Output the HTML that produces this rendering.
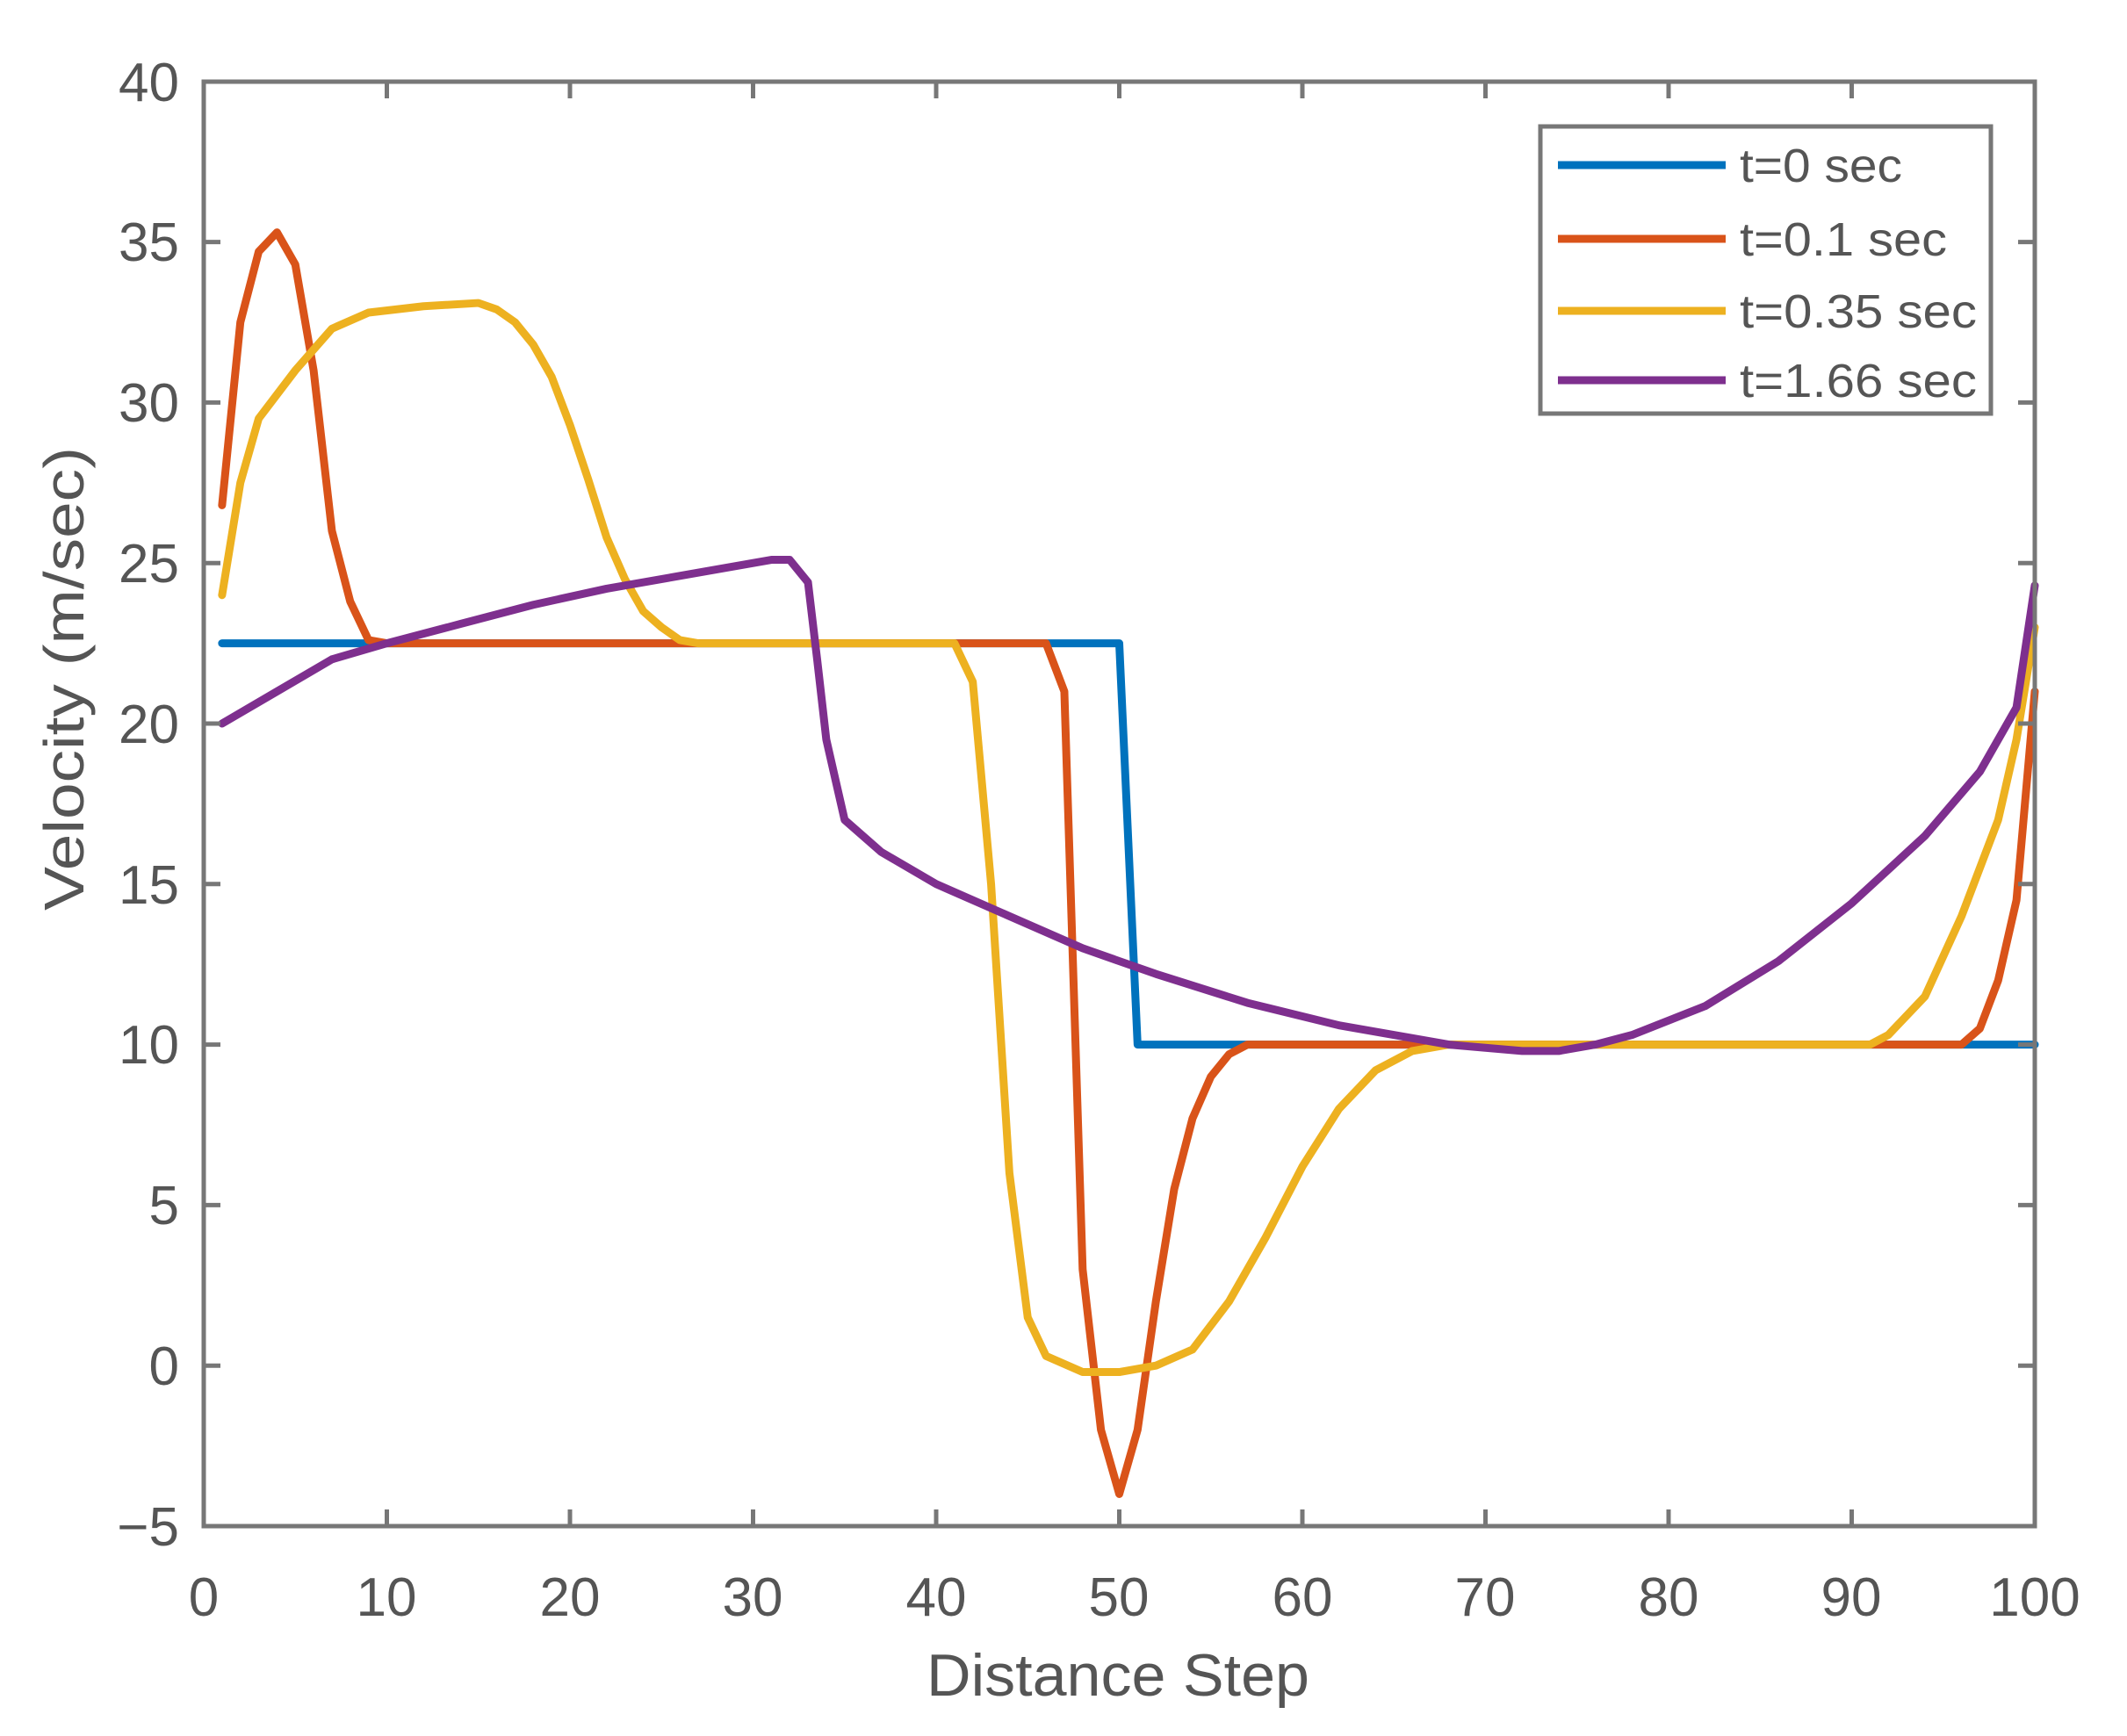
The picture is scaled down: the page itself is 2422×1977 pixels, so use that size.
<!DOCTYPE html>
<html><head><meta charset="utf-8"><style>
html,body{margin:0;padding:0;background:#fff;}
svg{display:block;}
text{font-family:"Liberation Sans",sans-serif;fill:#555;}
</style></head><body>
<svg width="2422" height="1977" viewBox="0 0 2422 1977" xmlns="http://www.w3.org/2000/svg">
<rect x="0" y="0" width="2422" height="1977" fill="#fff"/>
<g transform="translate(232,1555.2) scale(20.85,-36.56)" fill="none" stroke-linejoin="round" stroke-linecap="round">
<polyline vector-effect="non-scaling-stroke" stroke="#0072BD" stroke-width="9" points="1,22.5 50,22.5 51,10 100,10"/>
<polyline vector-effect="non-scaling-stroke" stroke="#D95319" stroke-width="9" points="1,26.8 2,32.5 3,34.7 4,35.3 5,34.3 6,31 7,26 8,23.8 9,22.6 10,22.5 46,22.5 47,21 48,3 49,-2 50,-4 51,-2 52,2 53,5.5 54,7.7 55,9 56,9.7 57,10 96,10 97,10.5 98,12 99,14.5 100,21"/>
<polyline vector-effect="non-scaling-stroke" stroke="#EDB120" stroke-width="9" points="1,24 2,27.5 3,29.5 5,31 7,32.3 9,32.8 12,33 15,33.1 16,32.9 17,32.5 18,31.8 19,30.8 20,29.3 21,27.6 22,25.8 23,24.5 24,23.5 25,23 26,22.6 27,22.5 41,22.5 42,21.3 43,15 44,6 45,1.5 46,0.3 48,-0.2 50,-0.2 52,0 54,0.5 56,2 58,4 60,6.2 62,8 64,9.2 66,9.8 68,10 91,10 92,10.3 94,11.5 96,14 98,17 99,19.5 100,23"/>
<polyline vector-effect="non-scaling-stroke" stroke="#7E2F8E" stroke-width="9" points="1,20 4,21 7,22 10,22.5 14,23.1 18,23.7 22,24.2 26,24.6 31,25.1 32,25.1 33,24.4 33.5,22 34,19.5 35,17 37,16 40,15 44,14 48,13 52,12.2 57,11.3 62,10.6 68,10 72,9.8 74,9.8 76,10 78,10.3 82,11.2 86,12.6 90,14.4 94,16.5 97,18.5 99,20.5 100,24.3"/>
</g>
<g stroke="#777" stroke-width="5" fill="none">
<rect x="232" y="93" width="2085" height="1645"/>
<path d="M440.5,1738v-19M649,1738v-19M857.5,1738v-19M1066,1738v-19M1274.5,1738v-19M1483,1738v-19M1691.5,1738v-19M1900,1738v-19M2108.5,1738v-19
M440.5,93v19M649,93v19M857.5,93v19M1066,93v19M1274.5,93v19M1483,93v19M1691.5,93v19M1900,93v19M2108.5,93v19
M232,1555.2h19M232,1372.4h19M232,1189.6h19M232,1006.8h19M232,824h19M232,641.2h19M232,458.4h19M232,275.6h19
M2317,1555.2h-19M2317,1372.4h-19M2317,1189.6h-19M2317,1006.8h-19M2317,824h-19M2317,641.2h-19M2317,458.4h-19M2317,275.6h-19"/>
</g>
<g font-size="62" text-anchor="middle">
<text x="232" y="1840">0</text><text x="440" y="1840">10</text><text x="649" y="1840">20</text><text x="857" y="1840">30</text><text x="1066" y="1840">40</text><text x="1274" y="1840">50</text><text x="1483" y="1840">60</text><text x="1691" y="1840">70</text><text x="1900" y="1840">80</text><text x="2108" y="1840">90</text><text x="2317" y="1840">100</text>
</g>
<g font-size="62" text-anchor="end">
<text x="204" y="1760">−5</text><text x="204" y="1577">0</text><text x="204" y="1394">5</text><text x="204" y="1211">10</text><text x="204" y="1029">15</text><text x="204" y="846">20</text><text x="204" y="663">25</text><text x="204" y="480">30</text><text x="204" y="297">35</text><text x="204" y="115">40</text>
</g>
<text x="1273" y="1931" font-size="68" text-anchor="middle" textLength="436" lengthAdjust="spacingAndGlyphs">Distance Step</text>
<text transform="translate(95,773) rotate(-90)" font-size="64" text-anchor="middle" textLength="528" lengthAdjust="spacingAndGlyphs">Velocity (m/sec)</text>
<rect x="1754" y="144" width="513" height="327" fill="#fff" stroke="#777" stroke-width="5"/>
<g stroke-width="9">
<line x1="1774" y1="188" x2="1965" y2="188" stroke="#0072BD"/>
<line x1="1774" y1="272" x2="1965" y2="272" stroke="#D95319"/>
<line x1="1774" y1="354" x2="1965" y2="354" stroke="#EDB120"/>
<line x1="1774" y1="433" x2="1965" y2="433" stroke="#7E2F8E"/>
</g>
<g font-size="54" style="fill:#444">
<text x="1981" y="207" textLength="185" lengthAdjust="spacingAndGlyphs">t=0 sec</text>
<text x="1981" y="291" textLength="236" lengthAdjust="spacingAndGlyphs">t=0.1 sec</text>
<text x="1981" y="373" textLength="270" lengthAdjust="spacingAndGlyphs">t=0.35 sec</text>
<text x="1981" y="452" textLength="270" lengthAdjust="spacingAndGlyphs">t=1.66 sec</text>
</g>
</svg>
</body></html>
